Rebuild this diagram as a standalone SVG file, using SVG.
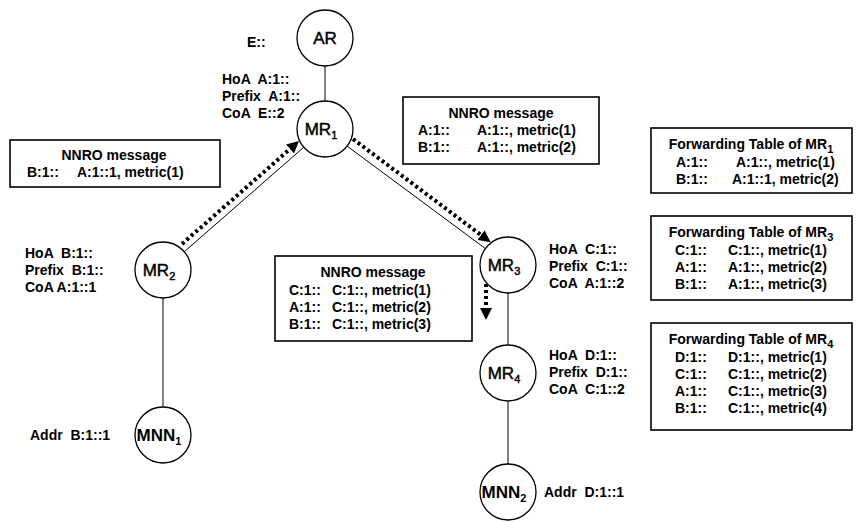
<svg xmlns="http://www.w3.org/2000/svg" width="860" height="522" viewBox="0 0 860 522">
<style>
  text { font-family: "Liberation Sans", Arial, sans-serif; fill: #000; }
  .t { font-size: 14px; font-weight: bold; white-space: pre; }
  .c { text-anchor: middle; }
  .n { font-size: 17px; text-anchor: middle; stroke: #000; stroke-width: 0.45; }
  .nb { font-size: 17px; font-weight: bold; text-anchor: middle; }
  .sub { font-size: 11px; }
  .node { fill: #fff; stroke: #000; stroke-width: 1.3; }
  .box { fill: #fff; stroke: #000; stroke-width: 1.6; }
  .link { stroke: #000; stroke-width: 1; fill: none; }
  .dot { stroke: #000; stroke-width: 4; stroke-dasharray: 3 3; fill: none; }
</style>
<defs>
  <marker id="ah" viewBox="0 0 10 10" refX="0" refY="5" markerWidth="3" markerHeight="3" orient="auto" markerUnits="strokeWidth">
    <path d="M0,0 L10,5 L0,10 z" fill="#000"/>
  </marker>
</defs>

<g id="connectors">
  <line class="link" x1="325" y1="66" x2="325" y2="101"/>
  <line class="link" x1="304" y1="147" x2="184" y2="252"/>
  <line class="link" x1="347" y1="146" x2="486" y2="249"/>
  <line class="link" x1="508" y1="293" x2="508" y2="345"/>
  <line class="link" x1="163" y1="298" x2="163" y2="407"/>
  <line class="link" x1="508" y1="401" x2="508" y2="464"/>
  <line class="dot" x1="182" y1="244" x2="290" y2="149" marker-end="url(#ah)"/>
  <line class="dot" x1="353" y1="139" x2="481" y2="235" marker-end="url(#ah)"/>
  <line class="dot" x1="486" y1="284" x2="486" y2="308" marker-end="url(#ah)"/>
</g>

<g id="AR">
  <circle class="node" cx="325" cy="38" r="28"/>
  <text class="n" x="325" y="44">AR</text>
  <text class="t" x="247" y="47">E::</text>
</g>

<g id="MR1">
  <circle class="node" cx="325" cy="129" r="28"/>
  <text class="n" x="321" y="135">MR<tspan class="sub" dy="4">1</tspan></text>
  <text class="t" x="222" y="84">HoA  A:1::</text>
  <text class="t" x="222" y="101">Prefix  A:1::</text>
  <text class="t" x="222" y="118">CoA  E::2</text>
</g>

<g id="MR2">
  <circle class="node" cx="163" cy="270" r="28"/>
  <text class="n" x="159" y="276">MR<tspan class="sub" dy="4">2</tspan></text>
  <text class="t" x="25" y="258">HoA  B:1::</text>
  <text class="t" x="25" y="275">Prefix  B:1::</text>
  <text class="t" x="25" y="292">CoA A:1::1</text>
</g>

<g id="MR3">
  <circle class="node" cx="508" cy="265" r="28"/>
  <text class="n" x="504" y="271">MR<tspan class="sub" dy="4">3</tspan></text>
  <text class="t" x="549" y="254">HoA  C:1::</text>
  <text class="t" x="549" y="271">Prefix  C:1::</text>
  <text class="t" x="549" y="288">CoA  A:1::2</text>
</g>

<g id="MR4">
  <circle class="node" cx="508" cy="373" r="28"/>
  <text class="n" x="504" y="379">MR<tspan class="sub" dy="4">4</tspan></text>
  <text class="t" x="549" y="360">HoA  D:1::</text>
  <text class="t" x="549" y="377">Prefix  D:1::</text>
  <text class="t" x="549" y="394">CoA  C:1::2</text>
</g>

<g id="MNN1">
  <circle class="node" cx="163" cy="435" r="28"/>
  <text class="nb" x="159" y="441">MNN<tspan class="sub" dy="4">1</tspan></text>
  <text class="t" x="30" y="440">Addr  B:1::1</text>
</g>

<g id="MNN2">
  <circle class="node" cx="508" cy="492" r="28"/>
  <text class="nb" x="504" y="498">MNN<tspan class="sub" dy="4">2</tspan></text>
  <text class="t" x="544" y="497">Addr  D:1::1</text>
</g>

<g id="NNRO-MR2">
  <rect class="box" x="10" y="140" width="210" height="47"/>
  <text class="t c" x="114" y="160">NNRO message</text>
  <text class="t" x="27" y="177">B:1::</text>
  <text class="t" x="77" y="177">A:1::1, metric(1)</text>
</g>

<g id="NNRO-MR1">
  <rect class="box" x="403" y="97" width="196" height="67"/>
  <text class="t c" x="501" y="118">NNRO message</text>
  <text class="t" x="418" y="135">A:1::</text>
  <text class="t" x="477" y="135">A:1::, metric(1)</text>
  <text class="t" x="418" y="152">B:1::</text>
  <text class="t" x="477" y="152">A:1::, metric(2)</text>
</g>

<g id="NNRO-MR3">
  <rect class="box" x="275" y="256" width="197" height="85"/>
  <text class="t c" x="373" y="277">NNRO message</text>
  <text class="t" x="289" y="295">C:1::</text>
  <text class="t" x="332" y="295">C:1::, metric(1)</text>
  <text class="t" x="289" y="312">A:1::</text>
  <text class="t" x="332" y="312">C:1::, metric(2)</text>
  <text class="t" x="289" y="329">B:1::</text>
  <text class="t" x="332" y="329">C:1::, metric(3)</text>
</g>

<g id="FT-MR1">
  <rect class="box" x="651" y="128" width="201" height="65"/>
  <text class="t c" x="751" y="149">Forwarding Table of MR<tspan class="sub" dy="4">1</tspan></text>
  <text class="t" x="676" y="167">A:1::</text>
  <text class="t" x="736" y="167">A:1::, metric(1)</text>
  <text class="t" x="676" y="184">B:1::</text>
  <text class="t" x="732" y="184">A:1::1, metric(2)</text>
</g>

<g id="FT-MR3">
  <rect class="box" x="651" y="216" width="201" height="84"/>
  <text class="t c" x="751" y="237">Forwarding Table of MR<tspan class="sub" dy="4">3</tspan></text>
  <text class="t" x="675" y="255">C:1::</text>
  <text class="t" x="728" y="255">C:1::, metric(1)</text>
  <text class="t" x="675" y="272">A:1::</text>
  <text class="t" x="728" y="272">A:1::, metric(2)</text>
  <text class="t" x="675" y="289">B:1::</text>
  <text class="t" x="728" y="289">A:1::, metric(3)</text>
</g>

<g id="FT-MR4">
  <rect class="box" x="651" y="323" width="201" height="107"/>
  <text class="t c" x="751" y="344">Forwarding Table of MR<tspan class="sub" dy="4">4</tspan></text>
  <text class="t" x="675" y="362">D:1::</text>
  <text class="t" x="728" y="362">D:1::, metric(1)</text>
  <text class="t" x="675" y="379">C:1::</text>
  <text class="t" x="728" y="379">C:1::, metric(2)</text>
  <text class="t" x="675" y="396">A:1::</text>
  <text class="t" x="728" y="396">C:1::, metric(3)</text>
  <text class="t" x="675" y="413">B:1::</text>
  <text class="t" x="728" y="413">C:1::, metric(4)</text>
</g>
</svg>
